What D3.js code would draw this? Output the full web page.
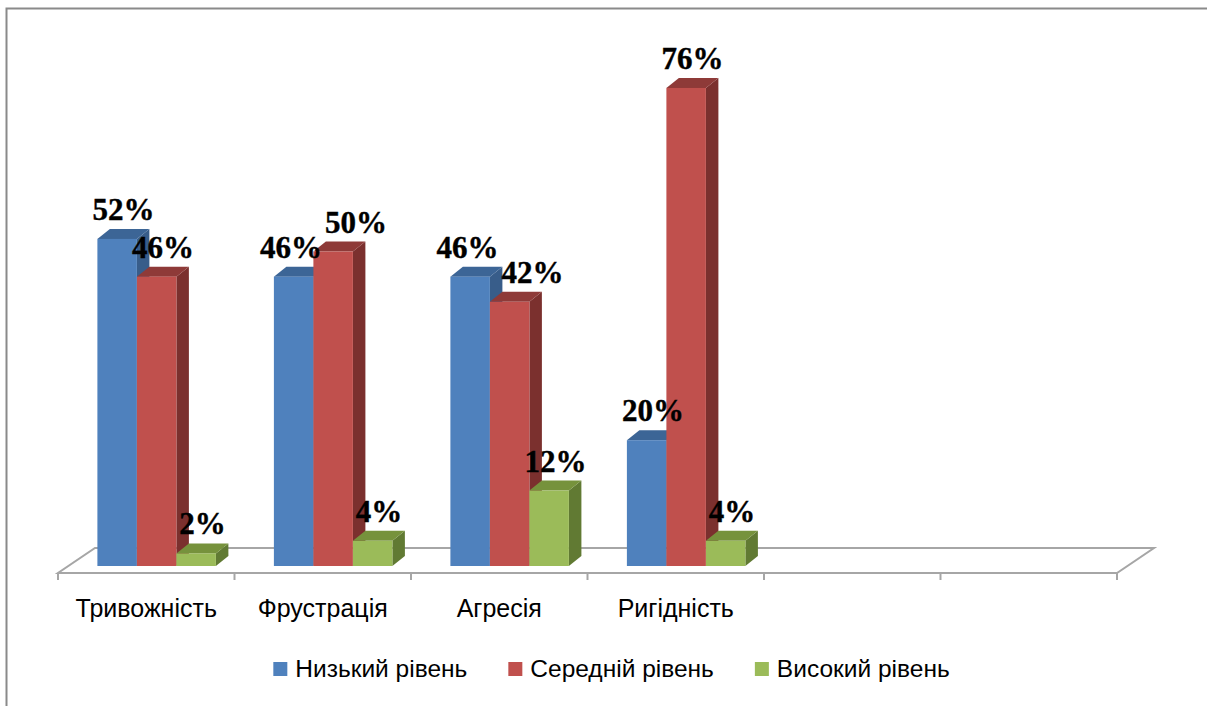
<!DOCTYPE html>
<html>
<head>
<meta charset="utf-8">
<script src="https://cdn.jsdelivr.net/npm/d3@7"></script>
<style>
  html, body { margin: 0; padding: 0; background: #fff; }
  svg { display: block; }
</style>
</head>
<body>
<svg id="chart" width="1207" height="706"></svg>
<script>
// ---- data ----
const categories = ["Тривожність", "Фрустрація", "Агресія", "Ригідність", "", " "];
const seriesNames = ["Низький рівень", "Середній рівень", "Високий рівень"];
const lowValues = [52, 46, 46, 20];
const midValues = [46, 50, 42, 76];
const highValues = [2, 4, 12, 4];
const valueLabels = [
  ["52%", "46%", "46%", "20%"],
  ["46%", "50%", "42%", "76%"],
  ["2%", "4%", "12%", "4%"]
];

const seriesValues = [lowValues, midValues, highValues];
const colors = {
  front: ["#4F81BD", "#C0504D", "#9BBB59"],
  top:   ["#3C6596", "#8E3A38", "#76923C"],
  side:  ["#385D8A", "#7B302E", "#617A33"]
};

const svg = d3.select("#chart");

// border
svg.append("path")
  .attr("d", "M6.5,706 L6.5,8.5 L1207,8.5")
  .attr("fill", "none").attr("stroke", "#8a8a8a").attr("stroke-width", 2);

// scales
const floorFrontY = 573;
const depth = { dx: 37, dy: -25 };
const barPlane = { dx: 10.4, dy: -7 };
const barDepth = { dx: 12.5, dy: -10 };

const fx = d3.scaleBand().domain(categories).range([58, 1117]).paddingInner(0).paddingOuter(0);
const inner = d3.scaleBand().domain(seriesNames).range([0, fx.bandwidth()]).paddingInner(0).paddingOuter(0.734);
const y = d3.scaleLinear().domain([0, 80]).range([floorFrontY + barPlane.dy, floorFrontY + barPlane.dy - 503.2]);

// floor
const x0 = fx.range()[0], x1 = fx.range()[1];
svg.append("path")
  .attr("d", `M${x0},${floorFrontY} L${x1},${floorFrontY} L${x1 + depth.dx},${floorFrontY + depth.dy} L${x0 + depth.dx},${floorFrontY + depth.dy} Z`)
  .attr("fill", "#fff").attr("stroke", "#a6a6a6").attr("stroke-width", 2);

// ticks
const tickXs = categories.map(c => fx(c)).concat([x1]);
svg.append("g").selectAll("line").data(tickXs).join("line")
  .attr("x1", d => d).attr("x2", d => d)
  .attr("y1", floorFrontY).attr("y2", floorFrontY + 7)
  .attr("stroke", "#a6a6a6").attr("stroke-width", 2);

// bars
const barsG = svg.append("g");
const labelsG = svg.append("g");
const realCats = categories.slice(0, lowValues.length);
realCats.forEach((cat, ci) => {
  const groupLabels = [];
  seriesNames.forEach((s, si) => {
    const v = seriesValues[si][ci];
    const bx = fx(cat) + barPlane.dx + inner(s);
    const w = inner.bandwidth();
    const yt = y(v), yb = y(0);
    const g = barsG.append("g");
    // side
    g.append("path")
      .attr("d", `M${bx + w},${yt} L${bx + w + barDepth.dx},${yt + barDepth.dy} L${bx + w + barDepth.dx},${yb + barDepth.dy} L${bx + w},${yb} Z`)
      .attr("fill", colors.side[si]);
    // top
    g.append("path")
      .attr("d", `M${bx},${yt} L${bx + barDepth.dx},${yt + barDepth.dy} L${bx + w + barDepth.dx},${yt + barDepth.dy} L${bx + w},${yt} Z`)
      .attr("fill", colors.top[si]);
    // front
    g.append("rect")
      .attr("x", bx).attr("y", yt).attr("width", w).attr("height", yb - yt)
      .attr("fill", colors.front[si]);

    const t = labelsG.append("text")
      .attr("x", bx + w / 2 + barDepth.dx / 2)
      .attr("y", yt - 19)
      .attr("text-anchor", "middle")
      .attr("font-family", "'Liberation Serif', 'Times New Roman', serif")
      .attr("font-weight", "bold")
      .attr("font-size", 31)
      .attr("stroke", "#000").attr("stroke-width", 0.4)
      .attr("fill", "#000")
      .text(valueLabels[si][ci]);
    groupLabels.push(t);
  });
  // spread apart overlapping neighbouring labels
  for (let i = 1; i < groupLabels.length; i++) {
    const a = groupLabels[i - 1].node().getBBox();
    const b = groupLabels[i].node().getBBox();
    const ox = a.x + a.width - b.x;
    const oy = Math.min(a.y + a.height, b.y + b.height) - Math.max(a.y, b.y);
    if (ox > -2 && oy > 4) {
      const need = ox + 3;
      groupLabels[i - 1].attr("x", +groupLabels[i - 1].attr("x") - need * 0.35);
      groupLabels[i].attr("x", +groupLabels[i].attr("x") + need * 0.65);
    }
  }
});

// category labels
svg.append("g").selectAll("text").data(realCats).join("text")
  .attr("x", d => fx(d) + fx.bandwidth() / 2)
  .attr("y", 617)
  .attr("text-anchor", "middle")
  .attr("font-family", "'Liberation Sans', Arial, sans-serif")
  .attr("font-size", 25)
  .attr("fill", "#000")
  .text(d => d);

// legend
const legend = svg.append("g");
const items = seriesNames.map((name, i) => {
  const g = legend.append("g");
  g.append("rect").attr("x", 0).attr("y", -15).attr("width", 14).attr("height", 14).attr("fill", colors.front[i]);
  const t = g.append("text").attr("x", 22).attr("y", 0)
    .attr("font-family", "'Liberation Sans', Arial, sans-serif")
    .attr("font-size", 24.5).attr("fill", "#000").text(name);
  return { g, w: 22 + t.node().getComputedTextLength() };
});
const gap = 41;
const total = d3.sum(items, d => d.w) + gap * (items.length - 1);
let cx = 611.5 - total / 2;
items.forEach(it => {
  it.g.attr("transform", `translate(${cx},677)`);
  cx += it.w + gap;
});
</script>
</body>
</html>
